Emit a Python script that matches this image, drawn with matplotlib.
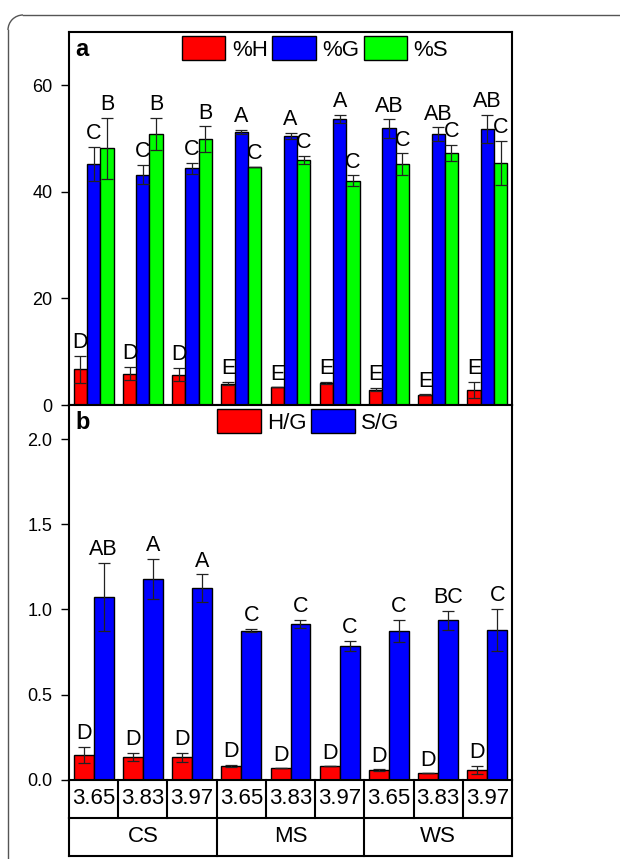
import numpy as np
import matplotlib
matplotlib.use('Agg')
import matplotlib.pyplot as plt
from matplotlib.patches import Patch, Arc
from matplotlib.lines import Line2D

plt.rcParams['font.family'] = ['Liberation Sans', 'DejaVu Sans']

# pH levels and soil groups
ph_labels = ['3.65', '3.83', '3.97'] * 3
groups = ['CS', 'MS', 'WS']

# Panel a: monolignol composition (%)
h_pct = [6.7, 5.9, 5.7, 4.0, 3.3, 4.1, 2.9, 1.9, 2.9]
h_pct_err = [2.5, 1.2, 1.2, 0.3, 0.0, 0.2, 0.3, 0.1, 1.5]
g_pct = [45.2, 43.2, 44.4, 51.3, 50.5, 53.7, 51.9, 50.8, 51.8]
g_pct_err = [3.2, 1.8, 1.1, 0.4, 0.6, 0.8, 1.7, 1.3, 2.6]
s_pct = [48.2, 50.9, 49.9, 44.7, 46.0, 42.1, 45.2, 47.3, 45.4]
s_pct_err = [5.7, 3.0, 2.4, 0.0, 0.7, 1.0, 2.0, 1.5, 4.2]
h_pct_lbl = ['D', 'D', 'D', 'E', 'E', 'E', 'E', 'E', 'E']
g_pct_lbl = ['C', 'C', 'C', 'A', 'A', 'A', 'AB', 'AB', 'AB']
s_pct_lbl = ['B', 'B', 'B', 'C', 'C', 'C', 'C', 'C', 'C']

# Panel b: ratios
hg = [0.145, 0.135, 0.131, 0.082, 0.067, 0.078, 0.057, 0.037, 0.057]
hg_err = [0.046, 0.023, 0.025, 0.005, 0.0, 0.0, 0.003, 0.0, 0.025]
sg = [1.074, 1.180, 1.123, 0.875, 0.914, 0.785, 0.873, 0.935, 0.880]
sg_err = [0.200, 0.117, 0.082, 0.009, 0.026, 0.030, 0.066, 0.056, 0.125]
hg_lbl = ['D'] * 9
sg_lbl = ['AB', 'A', 'A', 'C', 'C', 'C', 'C', 'BC', 'C']

RED, BLUE, GREEN = '#ff0000', '#0000ff', '#00ff00'

fig = plt.figure(figsize=(6.2, 8.59), dpi=100)
ax_a = fig.add_axes([69/620, (859-405)/859, 443/620, 373/859])
ax_b = fig.add_axes([69/620, (859-779.7)/859, 443/620, 374.7/859])
ax_t = fig.add_axes([69/620, (859-856)/859, 443/620, 76.3/859])

x = np.arange(len(ph_labels))


def bars(ax, offs, width, series, errs, labels, colors):
    for off, vals, err, lbl, col in zip(offs, series, errs, labels, colors):
        ax.bar(x + off, vals, width, color=col, edgecolor='black', linewidth=1.0, zorder=2)
        ax.errorbar(x + off, vals, yerr=err, fmt='none', ecolor='#222222',
                    elinewidth=0.9, capsize=4, capthick=0.9, zorder=3)
        for xi, v, e, t in zip(x + off, vals, err, lbl):
            ax.annotate(t, (xi, v + e), xytext=(0, 2), textcoords='offset points',
                        ha='center', va='bottom', fontsize=15.5)


def style(ax, ylim, ticks, fmt):
    ax.set_xlim(-0.5, len(x) - 0.5)
    ax.set_ylim(*ylim)
    ax.set_yticks(ticks)
    ax.set_yticklabels([fmt.format(t) for t in ticks])
    ax.set_xticks([])
    ax.tick_params(axis='y', direction='out', length=6, width=1, labelsize=13, pad=6)
    for sp in ax.spines.values():
        sp.set_linewidth(1.5)


# panel a
bars(ax_a, [-0.27, 0, 0.27], 0.27, [h_pct, g_pct, s_pct],
     [h_pct_err, g_pct_err, s_pct_err], [h_pct_lbl, g_pct_lbl, s_pct_lbl],
     [RED, BLUE, GREEN])
style(ax_a, (0, 70), [0, 20, 40, 60], '{:.0f}')
ax_a.text(0.015, 0.985, 'a', transform=ax_a.transAxes, fontsize=17,
          fontweight='bold', va='top', ha='left')
handles_a = [Patch(facecolor=c, edgecolor='black', linewidth=1) for c in (RED, BLUE, GREEN)]
ax_a.legend(handles_a, ['%H', '%G', '%S'], ncol=3, loc='upper left',
            bbox_to_anchor=(0.245, 1.0), frameon=False, fontsize=16,
            handlelength=1.95, handleheight=1.25, handletextpad=0.3,
            columnspacing=0.2, borderaxespad=0.2, borderpad=0.0)

# panel b
bars(ax_b, [-0.203, 0.203], 0.406, [hg, sg], [hg_err, sg_err],
     [hg_lbl, sg_lbl], [RED, BLUE])
style(ax_b, (0, 2.2), [0.0, 0.5, 1.0, 1.5, 2.0], '{:.1f}')
ax_b.text(0.015, 0.985, 'b', transform=ax_b.transAxes, fontsize=17,
          fontweight='bold', va='top', ha='left')
handles_b = [Patch(facecolor=c, edgecolor='black', linewidth=1) for c in (RED, BLUE)]
ax_b.legend(handles_b, ['H/G', 'S/G'], ncol=2, loc='upper left',
            bbox_to_anchor=(0.325, 1.0), frameon=False, fontsize=16,
            handlelength=1.95, handleheight=1.25, handletextpad=0.3,
            columnspacing=0.2, borderaxespad=0.2, borderpad=0.0)

# category table under panel b
ax_t.set_xlim(-0.5, len(x) - 0.5)
ax_t.set_ylim(0, 2)
ax_t.axis('off')
lw = 1.5
ax_t.plot([-0.5, len(x) - 0.5], [0, 0], color='black', lw=lw, clip_on=False)
ax_t.plot([-0.5, len(x) - 0.5], [1, 1], color='black', lw=lw, clip_on=False)
for b in np.arange(len(x) + 1) - 0.5:
    ax_t.plot([b, b], [1, 2], color='black', lw=lw, clip_on=False)
for b in np.arange(len(groups) + 1) * 3 - 0.5:
    ax_t.plot([b, b], [0, 1], color='black', lw=lw, clip_on=False)
for xi, t in zip(x, ph_labels):
    ax_t.text(xi, 1.5, t, ha='center', va='center', fontsize=16)
for gi, g in enumerate(groups):
    ax_t.text(gi * 3 + 1, 0.5, g, ha='center', va='center', fontsize=16)

# outer frame: only top and left edges with a rounded corner (inches)
tr = fig.dpi_scale_trans
r = 0.15
fx, fy = 0.08, 8.44
fig.add_artist(Line2D([fx + r, 7.0], [fy, fy], transform=tr, color='#555555', lw=1.0))
fig.add_artist(Line2D([fx, fx], [-1.0, fy - r], transform=tr, color='#555555', lw=1.0))
fig.add_artist(Arc((fx + r, fy - r), 2 * r, 2 * r, theta1=90, theta2=180,
                   transform=tr, color='#555555', lw=1.0))

fig.savefig('out.png', dpi=100)
